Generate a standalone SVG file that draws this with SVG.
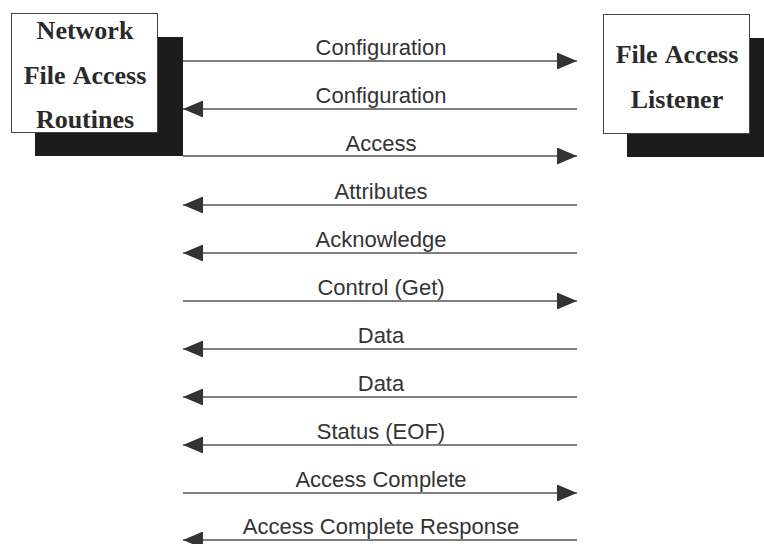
<svg xmlns="http://www.w3.org/2000/svg" width="764" height="544" viewBox="0 0 764 544">
  <style>
    .shadow { fill: #1c1c1c; }
    .box { fill: #ffffff; stroke: #444; stroke-width: 1; }
    .title { font-family: "Liberation Serif", "Times New Roman", serif; font-weight: bold; font-size: 26px; fill: #2a2a2a; text-anchor: middle; word-spacing: 2px; }
    .msg { stroke: #555; stroke-width: 1.3; fill: none; }
    .label { font-family: "Liberation Sans", Arial, sans-serif; font-size: 22px; fill: #333; text-anchor: middle; }
  </style>
  <defs>
    <marker id="head" viewBox="0 0 20 17" refX="20" refY="8.5" markerWidth="20" markerHeight="17" markerUnits="userSpaceOnUse" orient="auto">
      <path d="M0,0 L20,8.5 L0,17 Z" fill="#333"/>
    </marker>
  </defs>
  <rect width="764" height="544" fill="#ffffff"/>

  <!-- client side -->
  <g id="network-file-access-routines">
    <rect class="shadow" x="35" y="37" width="148" height="119"/>
    <rect class="box" x="11.5" y="13.5" width="146" height="119"/>
    <text class="title" x="85" y="39">Network</text>
    <text class="title" x="85" y="84">File Access</text>
    <text class="title" x="85" y="128">Routines</text>
  </g>

  <!-- server side -->
  <g id="file-access-listener">
    <rect class="shadow" x="627" y="38" width="137" height="119"/>
    <rect class="box" x="603.5" y="14.5" width="146" height="119"/>
    <text class="title" x="677" y="63">File Access</text>
    <text class="title" x="677" y="108">Listener</text>
  </g>

  <!-- message exchange -->
  <g id="messages">
    <line class="msg" x1="183" y1="61" x2="577" y2="61" marker-end="url(#head)"/>
    <text class="label" x="381" y="55">Configuration</text>

    <line class="msg" x1="577" y1="109" x2="183" y2="109" marker-end="url(#head)"/>
    <text class="label" x="381" y="103">Configuration</text>

    <line class="msg" x1="183" y1="156" x2="577" y2="156" marker-end="url(#head)"/>
    <text class="label" x="381" y="151">Access</text>

    <line class="msg" x1="577" y1="205" x2="183" y2="205" marker-end="url(#head)"/>
    <text class="label" x="381" y="199">Attributes</text>

    <line class="msg" x1="577" y1="253" x2="183" y2="253" marker-end="url(#head)"/>
    <text class="label" x="381" y="247">Acknowledge</text>

    <line class="msg" x1="183" y1="301" x2="577" y2="301" marker-end="url(#head)"/>
    <text class="label" x="381" y="295">Control (Get)</text>

    <line class="msg" x1="577" y1="349" x2="183" y2="349" marker-end="url(#head)"/>
    <text class="label" x="381" y="343">Data</text>

    <line class="msg" x1="577" y1="397" x2="183" y2="397" marker-end="url(#head)"/>
    <text class="label" x="381" y="391">Data</text>

    <line class="msg" x1="577" y1="445" x2="183" y2="445" marker-end="url(#head)"/>
    <text class="label" x="381" y="439">Status (EOF)</text>

    <line class="msg" x1="183" y1="493" x2="577" y2="493" marker-end="url(#head)"/>
    <text class="label" x="381" y="487">Access Complete</text>

    <line class="msg" x1="577" y1="540" x2="183" y2="540" marker-end="url(#head)"/>
    <text class="label" x="381" y="534">Access Complete Response</text>
  </g>
</svg>
